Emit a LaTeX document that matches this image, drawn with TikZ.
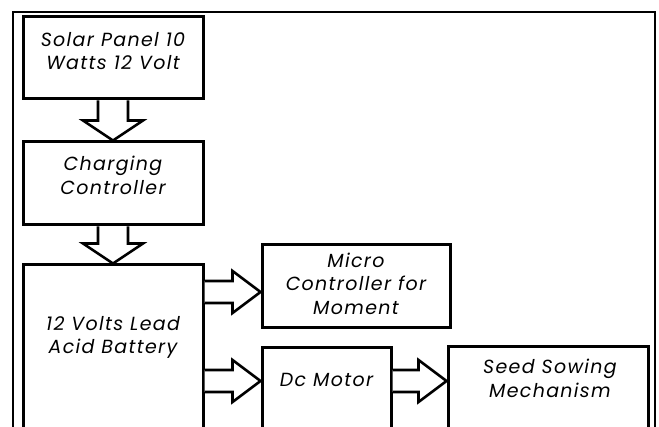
\documentclass[tikz,border=0pt]{standalone}
\usepackage{fontspec}
\setmainfont{Poppins}[LetterSpace=7]
\usetikzlibrary{calc}

% hollow block arrows, drawn between two named boxes
\newcommand{\downarrowblk}[2]{%
  \draw[fat] let \p1=(#1.south), \p2=(#2.north) in
    (\x2-15pt,\y1) -- (\x2-15pt,\y2+20pt) -- (\x2-30pt,\y2+20pt) -- (\x2,\y2)
    -- (\x2+30pt,\y2+20pt) -- (\x2+15pt,\y2+20pt) -- (\x2+15pt,\y1);}
\newcommand{\rightarrowblk}[3]{%
  \draw[fat] let \p1=(#1.east), \p2=(#2.west) in
    (\x1,#3-11pt) -- (\x2-28pt,#3-11pt) -- (\x2-28pt,#3-21pt) -- (\x2,#3)
    -- (\x2-28pt,#3+21pt) -- (\x2-28pt,#3+11pt) -- (\x1,#3+11pt);}

\begin{document}
\begin{tikzpicture}[x=1pt,y=1pt,
  blk/.style={draw, line width=3pt, inner sep=0pt},
  txt/.style={align=center, font=\fontsize{19}{23.5}\selectfont\itshape},
  fat/.style={line width=2.6pt, line join=miter, fill=white}]

  \useasboundingbox (0,0) rectangle (659,426);

  %--- outer frame (open at the bottom) ---
  \draw[line width=1.8pt] (13,-10) -- (13,414) -- (655,414) -- (655,-10);

  %--- boxes ---
  \node[blk, minimum width=180, minimum height=82] (solar) at (113,368) {};
  \node[blk, minimum width=180, minimum height=83] (charge) at (113,242.5) {};
  \node[blk, minimum width=180, minimum height=175] (bat) at (113,73.5) {};
  \node[blk, minimum width=188, minimum height=83] (micro) at (356,139.5) {};
  \node[blk, minimum width=129, minimum height=92] (motor) at (326.5,32) {};
  \node[blk, minimum width=200, minimum height=93] (seed) at (548,32.5) {};

  %--- labels ---
  \node[txt] (solar-txt) at (113,375) {Solar Panel 10\\Watts 12 Volt};
  \node[txt] (charge-txt) at (113,250.5) {Charging\\Controller};
  \node[txt] (bat-txt) at (113,88.5) {12 Volts Lead\\Acid Battery};
  \node[txt] (micro-txt) at (356,142.5) {Micro\\Controller for\\Moment};
  \node[txt] (motor-txt) at (326.5,46) {Dc Motor};
  \node[txt] (seed-txt) at (550,47.5) {Seed Sowing\\Mechanism};

  %--- flow ---
  \downarrowblk{solar}{charge}
  \downarrowblk{charge}{bat}
  \rightarrowblk{bat}{micro}{134pt}
  \rightarrowblk{bat}{motor}{45pt}
  \rightarrowblk{motor}{seed}{45pt}

\end{tikzpicture}
\end{document}
